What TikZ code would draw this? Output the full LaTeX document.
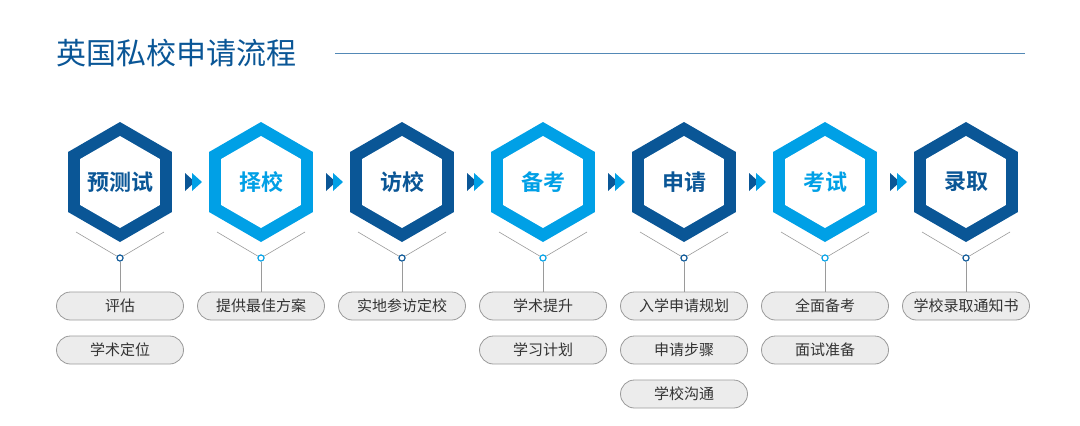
\documentclass[tikz,border=0pt]{standalone}
\usepackage{fontspec}
\setmainfont{Noto Sans CJK SC}[BoldFont={Noto Sans CJK SC Bold}]
\definecolor{dk}{HTML}{0A5696}
\definecolor{lt}{HTML}{00A0E6}
\definecolor{pillf}{HTML}{ECECEC}
\definecolor{pilld}{HTML}{9A9A9A}
\definecolor{tx}{HTML}{333333}
\tikzset{
 pill/.style={draw=pilld,fill=pillf,rounded corners=14pt,minimum width=127pt,minimum height=28pt,inner sep=0pt,font=\fontsize{15pt}{15pt}\selectfont,text=tx,line width=0.8pt},
 hexlabel/.style={font=\fontsize{22pt}{22pt}\selectfont\bfseries},
 conn/.style={draw=pilld,line width=0.6pt},
 dot/.style={circle,draw,line width=1pt,fill=white,minimum size=6pt,inner sep=0pt}
}
\begin{document}
\begin{tikzpicture}[x=1pt,y=-1pt]
\useasboundingbox (0,0) rectangle (1080,426);
\node[anchor=west,text=dk,font=\fontsize{30pt}{30pt}\selectfont,inner sep=0pt] (title) at (56,53) {英国私校申请流程};
\coordinate (tl) at (335,53);
\coordinate (tr) at (1025,53);
\draw[dk!70,line width=0.8pt] (tl) -- (tr);
\foreach \i/\x/\c/\t in {1/120/dk/预测试,2/261/lt/择校,3/402/dk/访校,4/543/lt/备考,5/684/dk/申请,6/825/lt/考试,7/966/dk/录取}{
  \fill[\c] (\x,182) +(90:60) -- +(150:60) -- +(210:60) -- +(270:60) -- +(330:60) -- +(30:60) -- cycle;
  \fill[white] (\x,182) +(90:46) -- +(150:46) -- +(210:46) -- +(270:46) -- +(330:46) -- +(30:46) -- cycle;
  \node[hexlabel,text=\c] (h\i) at (\x,182) {\t};
  \coordinate (la\i) at (\x-44,232);
  \coordinate (lb\i) at (\x+44,232);
  \node[dot,draw=\c] (d\i) at (\x,258) {};
  \draw[conn] (la\i) -- (d\i.center);
  \draw[conn] (lb\i) -- (d\i.center);
  \node[dot,draw=\c] at (\x,258) {};
}
\foreach \i/\x in {1/120,2/261,3/402,4/543,5/684,6/825,7/966}{
  \path (\x,306) coordinate (p\i);
}
\node[pill] (a1) at (120,306) {评估};
\node[pill] (b1) at (120,350) {学术定位};
\node[pill] (a2) at (261,306) {提供最佳方案};
\node[pill] (a3) at (402,306) {实地参访定校};
\node[pill] (a4) at (543,306) {学术提升};
\node[pill] (b4) at (543,350) {学习计划};
\node[pill] (a5) at (684,306) {入学申请规划};
\node[pill] (b5) at (684,350) {申请步骤};
\node[pill] (c5) at (684,394) {学校沟通};
\node[pill] (a6) at (825,306) {全面备考};
\node[pill] (b6) at (825,350) {面试准备};
\node[pill] (a7) at (966,306) {学校录取通知书};
\foreach \i in {1,...,7}{ \draw[conn] (d\i.south) -- (a\i.north); }
\foreach \i/\x in {1/185,2/326,3/467,4/608,5/749,6/890}{
  \fill[dk] (\x,173) -- (\x+10,182) -- (\x,191) -- cycle;
  \fill[lt] (\x+7,173) -- (\x+17,182) -- (\x+7,191) -- cycle;
}
\end{tikzpicture}
\end{document}
